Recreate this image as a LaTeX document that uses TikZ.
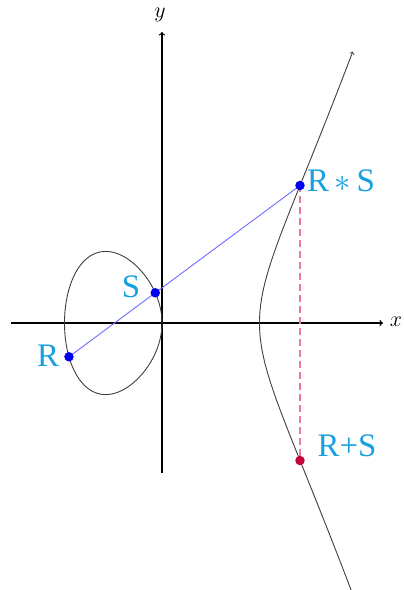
\RequirePackage{fix-cm}
\documentclass[tikz,border=0pt]{standalone}
\usepackage{fontspec}
\newfontfamily\labfont{Liberation Serif}
\usetikzlibrary{arrows}
\definecolor{labcol}{RGB}{25,160,225}
\definecolor{chordcol}{RGB}{110,110,255}
\definecolor{dotblue}{RGB}{0,0,240}
\definecolor{dotred}{RGB}{200,0,60}
\definecolor{dashcol}{RGB}{235,120,160}
\begin{document}
\begin{tikzpicture}[x=48.75bp,y=48.75bp,
  axis/.style={line width=1.3bp,black,-to},
  curve/.style={line width=0.9bp,black!75},
  chord/.style={line width=0.9bp,chordcol},
  dashline/.style={line width=1.2bp,dashcol,dash pattern=on 7bp off 4bp},
  dot/.style={circle,inner sep=0pt,minimum size=9.5bp,fill=#1},
  lab/.style={text=labcol,font=\labfont\fontsize{33}{38}\selectfont,inner sep=0pt},
  axlab/.style={font=\fontsize{22}{26}\selectfont,inner sep=0pt}]
\useasboundingbox (-3.323,-5.477) rectangle (4.964,6.626);
\fill[white] (-3.323,-5.477) rectangle (4.964,6.626);
% axes
\coordinate (xl) at (-3.097,0);
\coordinate (xr) at (4.533,0);
\coordinate (yb) at (0,-3.077);
\coordinate (yt) at (0,5.969);
\draw[axis] (xl) -- (xr);
\draw[axis] (yb) -- (yt);
\node[axlab] (xlab) at (4.80,0.02) {$x$};
\node[axlab] (ylab) at (-0.04,6.33) {$y$};
% elliptic curve y^2 = 0.7 (x^3 - 4x)
\draw[curve] plot[domain=0:360,samples=240,smooth,variable=\t]
  ({-1+cos(\t)},{sin(\t)*sqrt(0.7*(3-cos(\t)))}) -- cycle;
\draw[curve,->] plot[domain=-1.385:1.385,samples=160,smooth,variable=\s]
  ({2+\s*\s},{\s*sqrt(0.7*(2+\s*\s)*(4+\s*\s))});
% points
\coordinate (R) at (-1.908,-0.693);
\coordinate (S) at (-0.1375,0.6198);
\coordinate (RS) at (2.831,2.821);
\coordinate (RpS) at (2.831,-2.821);
\draw[chord] (R) -- (RS);
\draw[dashline] (RS) -- (RpS);
\node[dot=dotblue] (Rd) at (R) {};
\node[dot=dotblue] (Sd) at (S) {};
\node[dot=dotblue] (RSd) at (RS) {};
\node[dot=dotred] (RpSd) at (RpS) {};
% labels
\node[lab] (lR) at (-2.338,-0.677) {R};
\node[lab] (lS) at (-0.636,0.738) {S};
\node[lab] (lRS) at (3.672,2.913) {R\,$*$\,S};
\node[lab] (lRpS) at (3.795,-2.523) {R+S};
\end{tikzpicture}
\end{document}
